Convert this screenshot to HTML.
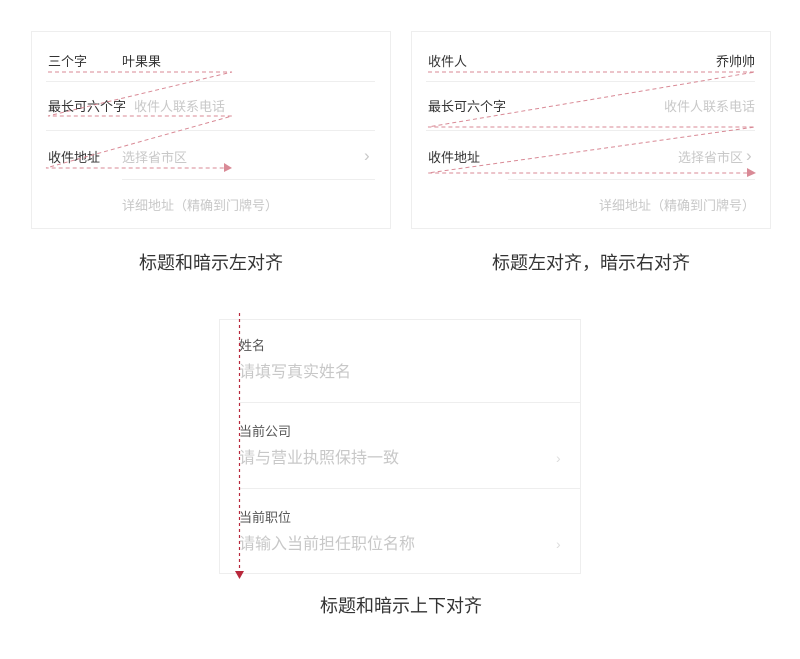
<!DOCTYPE html>
<html><head><meta charset="utf-8"><style>
body{margin:0;width:800px;height:659px;background:#fff;position:relative;overflow:hidden;font-family:"Liberation Sans","Noto Sans CJK SC",sans-serif}
.t{position:absolute;white-space:nowrap;line-height:1}
.d{color:#333;font-size:13px}
.g{color:#c8c8c8;font-size:13px}
.box{position:absolute;border:1px solid #eeeeee;box-sizing:border-box}
.cap{position:absolute;font-size:18px;color:#333;white-space:nowrap;line-height:1}
</style></head><body>
<div class="box" style="left:31px;top:31px;width:360px;height:198px"></div>
<div class="box" style="left:411px;top:31px;width:360px;height:198px"></div>
<div class="box" style="left:219px;top:319px;width:362px;height:255px"></div>

<div class="t d" style="left:48px;top:55px">三个字</div>
<div class="t d" style="left:122px;top:55px">叶果果</div>
<div class="t d" style="left:48px;top:100px">最长可六个字</div>
<div class="t g" style="left:134px;top:100px">收件人联系电话</div>
<div class="t d" style="left:48px;top:151px">收件地址</div>
<div class="t g" style="left:122px;top:151px">选择省市区</div>
<div class="t g" style="left:364px;top:147px;font-size:17px">›</div>
<div class="t g" style="left:122px;top:199px">详细地址（精确到门牌号）</div>

<div class="t d" style="left:428px;top:55px">收件人</div>
<div class="t d" style="right:45px;top:55px">乔帅帅</div>
<div class="t d" style="left:428px;top:100px">最长可六个字</div>
<div class="t g" style="right:45px;top:100px">收件人联系电话</div>
<div class="t d" style="left:428px;top:151px">收件地址</div>
<div class="t g" style="right:57px;top:151px">选择省市区</div>
<div class="t g" style="left:746px;top:147px;font-size:17px">›</div>
<div class="t g" style="right:45px;top:199px">详细地址（精确到门牌号）</div>

<div class="cap" style="left:139px;top:254px">标题和暗示左对齐</div>
<div class="cap" style="left:492px;top:254px">标题左对齐，暗示右对齐</div>
<div class="cap" style="left:320px;top:597px">标题和暗示上下对齐</div>

<div class="t" style="left:239px;top:339px;font-size:13px;color:#555">姓名</div>
<div class="t g" style="left:239px;top:365px;font-size:16px">请填写真实姓名</div>
<div class="t" style="left:239px;top:425px;font-size:13px;color:#555">当前公司</div>
<div class="t g" style="left:239px;top:451px;font-size:16px">请与营业执照保持一致</div>
<div class="t g" style="left:556px;top:451px;font-size:14px;color:#ddd">›</div>
<div class="t" style="left:239px;top:511px;font-size:13px;color:#555">当前职位</div>
<div class="t g" style="left:239px;top:537px;font-size:16px">请输入当前担任职位名称</div>
<div class="t g" style="left:556px;top:537px;font-size:14px;color:#ddd">›</div>

<svg width="800" height="659" style="position:absolute;left:0;top:0">
<g stroke="#eeeeee" stroke-width="1">
<line x1="46" y1="81.5" x2="375" y2="81.5"/><line x1="46" y1="130.5" x2="375" y2="130.5"/><line x1="122" y1="179.5" x2="375" y2="179.5"/>
<line x1="426" y1="81.5" x2="755" y2="81.5"/><line x1="426" y1="130.5" x2="755" y2="130.5"/><line x1="508" y1="179.5" x2="755" y2="179.5"/>
<line x1="239" y1="402.5" x2="580" y2="402.5"/><line x1="239" y1="488.5" x2="580" y2="488.5"/>
</g>
<g stroke="#d98a96" stroke-width="1" stroke-dasharray="4,3" fill="none">
<polyline points="48,72 232,72 48,116 232,116 46,168 224,168"/>
<polyline points="428,72 755,72 428,127 755,127 428,173 748,173"/>
</g>
<polygon points="224,163 232,168 224,172" fill="#d98a96"/>
<polygon points="747,168 756,173 747,177" fill="#d98a96"/>
<line x1="239.5" y1="313" x2="239.5" y2="570" stroke="#b8283c" stroke-width="1.2" stroke-dasharray="3,3"/>
<polygon points="235,571 244,571 239.5,579" fill="#b8283c"/>
</svg>
</body></html>
